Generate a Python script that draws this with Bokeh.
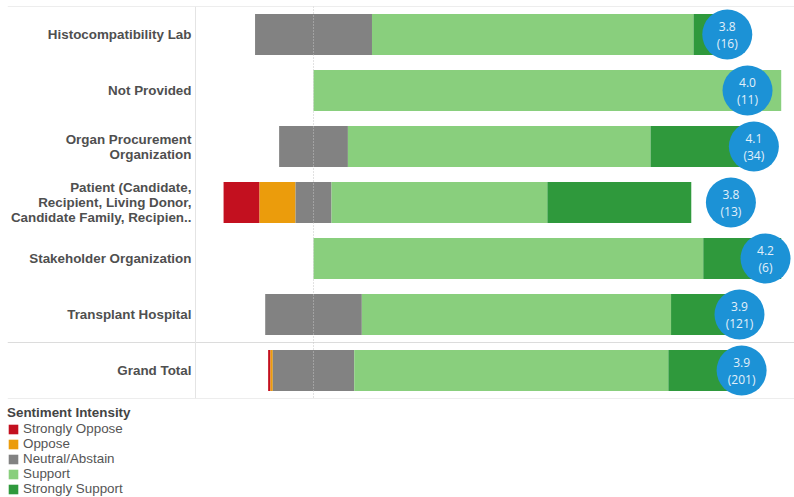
from bokeh.plotting import figure
from bokeh.models import Range1d, FactorRange, Span, ColumnDataSource, Legend, LegendItem
from bokeh.layouts import column
from bokeh.embed import file_html
from bokeh.resources import INLINE
from bokeh.core.properties import value

# ---------------- data ----------------
categories = [
    "Histocompatibility Lab",
    "Not Provided",
    "Organ Procurement Organization",
    "Patient (Candidate, Recipient, Living Donor, Candidate Family, Recipien..",
    "Stakeholder Organization",
    "Transplant Hospital",
    "Grand Total",
]
category_labels = [
    "Histocompatibility Lab",
    "Not Provided",
    "Organ Procurement\nOrganization",
    "Patient (Candidate,\nRecipient, Living Donor,\nCandidate Family, Recipien..",
    "Stakeholder Organization",
    "Transplant Hospital",
    "Grand Total",
]
sentiments = ["Strongly Oppose", "Oppose", "Neutral/Abstain", "Support", "Strongly Support"]
strongly_oppose = [0, 0, 0, 1, 0, 0, 1]
oppose = [0, 0, 0, 1, 0, 0, 1]
neutral = [4, 0, 5, 1, 0, 25, 35]
support = [11, 11, 22, 6, 5, 80, 135]
strongly_support = [1, 0, 7, 4, 1, 16, 29]

colors = ["#c3101f", "#eb9c0c", "#828282", "#89cf7d", "#2f993c"]

# ---------------- derived ----------------
counts = [strongly_oppose, oppose, neutral, support, strongly_support]
n = len(categories)
totals = [sum(counts[k][i] for k in range(5)) for i in range(n)]
pct = [[100.0 * counts[k][i] / totals[i] for i in range(n)] for k in range(5)]
starts = [-(pct[0][i] + pct[1][i] + pct[2][i] / 2.0) for i in range(n)]
scores = [sum((k + 1) * counts[k][i] for k in range(5)) / totals[i] for i in range(n)]

# ---------------- main figure ----------------
factors = list(reversed(categories))
p = figure(width=794, height=399, output_backend="svg", toolbar_location=None,
           x_range=Range1d(-65.43, 102.84), y_range=FactorRange(*factors),
           x_axis_location=None, y_axis_location=None,
           min_border_left=7, min_border_right=0, min_border_top=6, min_border_bottom=1)
p.outline_line_color = None
p.xgrid.visible = False
p.ygrid.visible = False
p.background_fill_color = "white"
p.border_fill_color = "white"
p.extra_x_ranges = {"score": Range1d(-2.852, 4.435)}

# lines
for loc in [0.0, 1.0, 7.0]:
    p.add_layout(Span(location=loc, dimension="width", line_color="#dcdcdc", line_width=1))
p.add_layout(Span(location=-25.23, dimension="height", line_color="#e4e4e4", line_width=1))
p.add_layout(Span(location=0, dimension="height", line_color="#c4c4c4", line_width=1, line_dash="1 2"))

cur = list(starts)
for k in range(5):
    lefts = cur
    rights = [cur[i] + pct[k][i] for i in range(n)]
    src = ColumnDataSource(dict(y=categories, left=lefts, right=rights))
    p.hbar(y="y", left="left", right="right", height=0.735, source=src,
           fill_color=colors[k], line_color=None)
    cur = rights

# category labels
lab_src = ColumnDataSource(dict(y=categories, text=category_labels, x=[-26.1] * n))
p.text(x="x", y="y", text="text", source=lab_src, text_align="right", text_baseline="middle",
       text_font=value("Liberation Sans"), text_font_style="bold", text_font_size="13.4px",
       text_color="#4f4f4f", text_line_height=1.0)

# score circles
sc_src = ColumnDataSource(dict(
    y=categories, score=scores,
    text=["%.1f\n(%d)" % (s, t) for s, t in zip(scores, totals)]))
p.scatter(x="score", y="y", size=50, marker="circle", source=sc_src, x_range_name="score",
          fill_color="#1c92d6", line_color=None)
p.text(x="score", y="y", text="text", source=sc_src, x_range_name="score",
       text_align="center", text_baseline="middle", text_font=value("Open Sans"),
       text_font_size="12px", text_color="#e2f0fa", text_line_height=1.0)

# ---------------- legend figure ----------------
lf = figure(width=794, height=98, output_backend="svg", toolbar_location=None,
            x_range=Range1d(0, 1), y_range=Range1d(0, 1),
            x_axis_location=None, y_axis_location=None,
            min_border_left=0, min_border_right=0, min_border_top=6, min_border_bottom=0)
lf.outline_line_color = None
lf.xgrid.visible = False
lf.ygrid.visible = False
items = []
for k in range(5):
    r = lf.rect(x=[-5], y=[-5], width=[0.1], height=[0.1], fill_color=colors[k], line_color=None)
    items.append(LegendItem(label=sentiments[k], renderers=[r]))
leg = Legend(items=items, location="top_left", title="Sentiment Intensity",
             title_text_font="Liberation Sans", title_text_font_style="bold",
             title_text_font_size="13.4px", title_text_color="#444444", title_standoff=1,
             label_text_font="Liberation Sans", label_text_font_size="13.4px",
             label_text_color="#555555", glyph_width=12, glyph_height=12,
             label_height=10, label_standoff=4, spacing=0, padding=6, margin=0,
             border_line_color=None, background_fill_alpha=0)
lf.add_layout(leg)

layout = column(p, lf, spacing=0)
open("out.html", "w").write(file_html(layout, INLINE))
